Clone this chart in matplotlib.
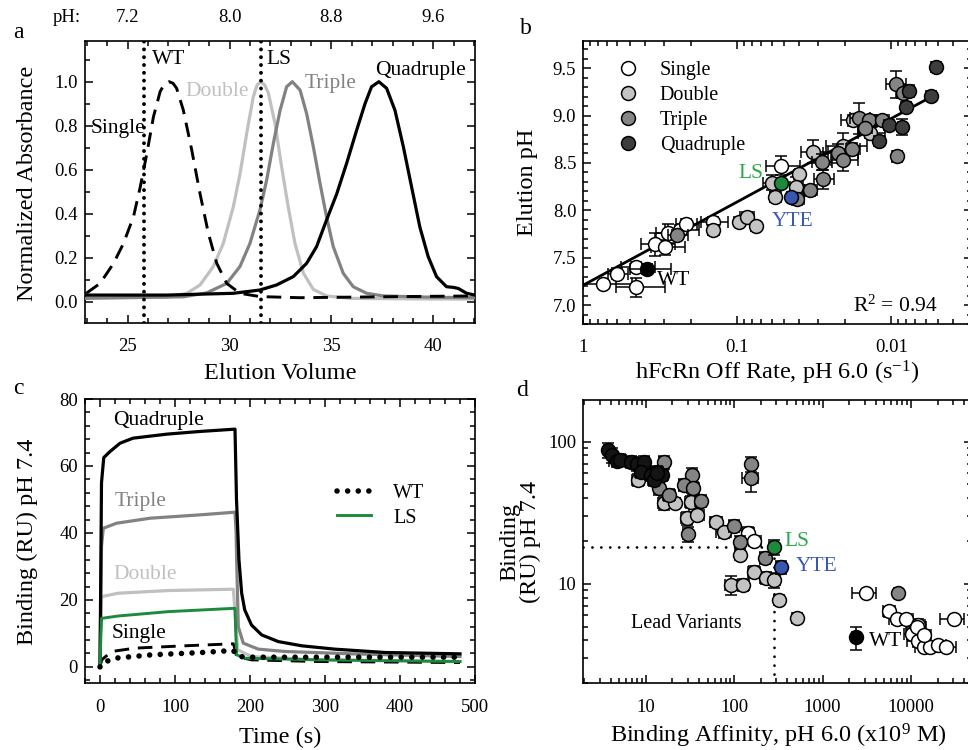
import numpy as np
import matplotlib
matplotlib.use("Agg")
import matplotlib.pyplot as plt
from matplotlib.ticker import MultipleLocator, FormatStrFormatter, FixedLocator, LogLocator, NullFormatter
from matplotlib.lines import Line2D

plt.rcParams["font.family"] = ["Liberation Serif", "DejaVu Serif"]
plt.rcParams["mathtext.fontset"] = "custom"
plt.rcParams["mathtext.rm"] = "Liberation Serif"
plt.rcParams["mathtext.it"] = "Liberation Serif:italic"
plt.rcParams["axes.linewidth"] = 1.2

# ---------------- (a) elution chromatograms ----------------
vol_single = [22.96, 23.64, 24.3, 24.79, 25.28, 25.61, 25.93, 26.26, 26.59, 26.8, 27.03, 27.22, 27.4, 27.73,
              28.14, 28.55, 28.96, 29.37, 29.86, 30.51, 31.49, 33.45, 38.36, 42.04]
abs_single = [0.038, 0.083, 0.174, 0.265, 0.386, 0.52, 0.67, 0.84, 0.955, 0.99, 1.0, 0.993, 0.97, 0.87,
              0.69, 0.49, 0.31, 0.174, 0.083, 0.038, 0.023, 0.018, 0.023, 0.026]

vol_double = [22.9, 26.91, 27.9, 28.55, 29.2, 29.69, 30.18, 30.51, 30.84, 31.16, 31.35, 31.54, 31.72, 31.9,
              32.23, 32.56, 32.88, 33.21, 33.62, 34.11, 34.76, 35.91, 40.0, 42.05]
abs_double = [0.02, 0.02, 0.038, 0.076, 0.16, 0.265, 0.43, 0.58, 0.765, 0.93, 0.985, 1.0, 0.985, 0.95,
              0.81, 0.61, 0.43, 0.265, 0.13, 0.056, 0.026, 0.015, 0.012, 0.012]

vol_triple = [22.9, 27.73, 28.88, 29.86, 30.51, 31.0, 31.49, 31.82, 32.15, 32.48, 32.8, 33.08, 33.46, 33.78,
              34.11, 34.44, 34.76, 35.09, 35.58, 36.07, 36.73, 37.55, 40.0, 42.05]
abs_triple = [0.015, 0.022, 0.04, 0.083, 0.16, 0.265, 0.417, 0.553, 0.72, 0.87, 0.977, 1.0, 0.962, 0.856,
              0.705, 0.538, 0.386, 0.25, 0.129, 0.068, 0.038, 0.026, 0.02, 0.018]

vol_quad = [22.96, 26.9, 30.18, 31.49, 32.31, 33.13, 33.78, 34.27, 34.76, 35.26, 35.75, 36.24, 36.65, 36.97,
            37.33, 37.71, 38.12, 38.53, 38.94, 39.34, 39.75, 40.16, 40.65, 40.98, 41.23, 41.64, 42.04]
abs_quad = [0.03, 0.03, 0.038, 0.053, 0.076, 0.114, 0.174, 0.25, 0.371, 0.49, 0.63, 0.78, 0.9, 0.977,
            1.0, 0.97, 0.87, 0.705, 0.52, 0.34, 0.205, 0.114, 0.068, 0.065, 0.06, 0.038, 0.03]

vol_ticks = [25, 30, 35, 40]
ph_tick_labels = ["7.2", "8.0", "8.8", "9.6"]
wt_volume = 25.8
ls_volume = 31.55

# ---------------- (b) elution pH vs off rate ----------------
off_single = [0.742, 0.603, 0.458, 0.456, 0.34, 0.293, 0.282, 0.237, 0.216, 0.143, 0.052]
ph_single = [7.22, 7.33, 7.40, 7.19, 7.64, 7.61, 7.76, 7.79, 7.86, 7.88, 8.47]
off_single_rel = [0.35, 0.15, 0.25, 0.35, 0.25, 0.25, 0.2, 0.25, 0.15, 0.2, 0.25]
ph_single_err = [0.02, 0.06, 0.05, 0.1, 0.12, 0.08, 0.1, 0.05, 0.05, 0.05, 0.1]

off_double = [0.143, 0.097, 0.087, 0.0755, 0.0594, 0.0569, 0.0396, 0.0416, 0.0321, 0.0206, 0.0177, 0.0138]
ph_double = [7.79, 7.88, 7.93, 7.83, 8.29, 8.14, 8.38, 8.25, 8.62, 8.68, 8.95, 8.82]
off_double_rel = [0.08, 0.06, 0.1, 0.06, 0.15, 0.08, 0.06, 0.1, 0.2, 0.3, 0.2, 0.2]
ph_double_err = [0.05, 0.05, 0.05, 0.05, 0.08, 0.05, 0.05, 0.1, 0.12, 0.14, 0.06, 0.06]

off_triple = [0.246, 0.0284, 0.0277, 0.0337, 0.0412, 0.0221, 0.0206, 0.0179, 0.0162, 0.0139, 0.0116,
              0.00915, 0.0094, 0.0149, 0.0084]
ph_triple = [7.74, 8.51, 8.33, 8.21, 8.12, 8.60, 8.53, 8.65, 8.97, 8.95, 8.95, 8.57, 9.33, 8.87, 9.24]
off_triple_rel = [0.15, 0.15, 0.15, 0.1, 0.1, 0.25, 0.2, 0.1, 0.15, 0.1, 0.1, 0.06, 0.15, 0.1, 0.1]
ph_triple_err = [0.05, 0.08, 0.1, 0.06, 0.06, 0.1, 0.12, 0.06, 0.16, 0.06, 0.06, 0.06, 0.14, 0.05, 0.05]

off_quad = [0.00516, 0.00556, 0.00767, 0.00807, 0.01035, 0.0086, 0.012]
ph_quad = [9.51, 9.21, 9.26, 9.09, 8.90, 8.88, 8.73]
off_quad_rel = [0.05, 0.05, 0.06, 0.05, 0.05, 0.05, 0.05]
ph_quad_err = [0.05, 0.05, 0.06, 0.05, 0.05, 0.08, 0.05]

off_wt, ph_wt = 0.385, 7.38
off_ls, ph_ls = 0.052, 8.29
off_yte, ph_yte = 0.0451, 8.14

fit_intercept, fit_slope = 7.21, -0.88   # pH = a + b*log10(off rate)
fit_range = [1.0, 0.0055]
r_squared = 0.94

# ---------------- (c) SPR sensorgrams at pH 7.4 ----------------
t_quad = [0, 2, 5, 13.3, 26.7, 44, 88.9, 133, 180, 182, 185.3, 188.9, 193, 202, 215.6, 237.8, 268.9, 313, 380, 480]
ru_quad = [0, 55, 62.5, 64.3, 66.8, 68.3, 69.5, 70.3, 71, 50, 31.9, 22, 17, 12.5, 9.55, 7.55, 6.3, 5.3, 4.3, 3.9]

t_triple = [0, 2, 4.4, 22, 66.7, 133, 180, 181.5, 182.2, 184.4, 191, 211, 246.7, 335.6, 480]
ru_triple = [0, 36, 41.4, 42.9, 44.4, 45.4, 46.2, 40, 31.9, 12, 7.1, 5.3, 4.6, 3.9, 3.1]

t_double = [0, 1.5, 2.2, 24.4, 91, 177.8, 180.5, 183.6, 202, 291, 480]
ru_double = [0, 17, 21, 22, 22.8, 23.2, 15, 5.1, 3.1, 2.1, 1.6]

t_ls = [0, 1.2, 2.2, 24.4, 91, 180, 181, 182.2, 193, 291, 480]
ru_ls = [0, 10, 14.5, 15.2, 16.5, 17.5, 10, 3.6, 2.6, 2.1, 1.6]

t_single = [0, 2.2, 15.6, 46.7, 113, 177.8, 180.5, 182, 202, 291, 480]
ru_single = [0, 2.1, 4.6, 5.6, 6.3, 6.9, 5, 3.1, 2.1, 1.6, 1.3]

t_wt = [0, 2.2, 20, 69, 135.6, 177.8, 181, 184, 202, 335, 480]
ru_wt = [0, 1.1, 2.6, 3.6, 4.3, 4.9, 4.0, 3.1, 2.9, 2.9, 2.9]

# ---------------- (d) binding at pH 7.4 vs affinity at pH 6.0 ----------------
kd_single = [144, 166, 3100, 5690, 7000, 8790, 12100, 10300, 11900, 13900, 16200, 20000, 24900, 30400, 11700, 13900]
bind_single = [22.7, 20.1, 8.6, 6.4, 5.7, 5.7, 5.15, 4.44, 3.94, 3.57, 3.6, 3.7, 3.6, 5.7, 5.0, 4.39]
kd_single_rel = [0.15, 0.2, 0.3, 0.15, 0.2, 0.2, 0.2, 0.2, 0.25, 0.2, 0.2, 0.25, 0.3, 0.3, 0.25, 0.2]
bind_single_rel = [0.1, 0.08, 0.05, 0.08, 0.08, 0.08, 0.1, 0.08, 0.08, 0.06, 0.06, 0.06, 0.06, 0.05, 0.08, 0.08]

kd_double = [8.2, 16.1, 21.3, 29.1, 38.4, 32.3, 63, 77, 117, 91.8, 127, 168, 228, 284, 318, 508]
bind_double = [53.8, 36.9, 36.9, 28.9, 30.6, 37.9, 27.2, 23.3, 16.0, 9.85, 9.85, 12.2, 11.0, 10.7, 7.7, 5.8]
kd_double_rel = [0.15, 0.15, 0.15, 0.15, 0.2, 0.15, 0.15, 0.2, 0.1, 0.15, 0.15, 0.15, 0.15, 0.15, 0.1, 0.1]
bind_double_rel = [0.1, 0.1, 0.08, 0.1, 0.1, 0.1, 0.08, 0.1, 0.08, 0.15, 0.1, 0.1, 0.1, 0.12, 0.08, 0.08]

kd_triple = [16.1, 33.7, 27.2, 34.6, 14.2, 18.4, 42.0, 29.6, 100, 117, 223, 155, 155, 7060]
bind_triple = [71.6, 58.3, 49.7, 47.0, 47.0, 42.2, 38.3, 22.3, 25.7, 19.8, 15.2, 69.3, 55.4, 8.6]
kd_triple_rel = [0.12, 0.12, 0.12, 0.15, 0.12, 0.15, 0.15, 0.12, 0.12, 0.1, 0.12, 0.1, 0.2, 0.1]
bind_triple_rel = [0.1, 0.12, 0.1, 0.1, 0.1, 0.1, 0.1, 0.12, 0.1, 0.1, 0.1, 0.12, 0.2, 0.06]

kd_quad = [3.74, 4.19, 4.77, 5.12, 6.76, 8.03, 9.56, 8.78, 11.4, 13.5, 15.4, 12.4, 13.3]
bind_quad = [87.4, 80.6, 73.1, 74.3, 72.3, 69.3, 72.3, 61.5, 58.3, 61.5, 58.3, 53.8, 60.0]
kd_quad_rel = [0.1, 0.1, 0.2, 0.15, 0.15, 0.15, 0.15, 0.15, 0.15, 0.15, 0.15, 0.15, 0.15]
bind_quad_rel = [0.12, 0.12, 0.1, 0.1, 0.1, 0.1, 0.1, 0.1, 0.1, 0.1, 0.1, 0.1, 0.1]

kd_wt, bind_wt = 2390, 4.2
kd_ls, bind_ls = 279, 18.1
kd_yte, bind_yte = 338, 13.1
lead_kd_cut, lead_bind_cut = 279, 18.1

# ---------------- colours and sizes ----------------
C_SINGLE, C_DOUBLE, C_TRIPLE, C_QUAD = "white", "#c3c3c3", "#858585", "#3d3d3d"
C_QUAD_D = "#141414"
C_LS, C_YTE = "#1b8a3c", "#3656b0"
C_LS_TXT, C_YTE_TXT = "#2aa845", "#3a58b8"
LINE_DOUBLE, LINE_TRIPLE = "#c0c0c0", "#828282"
FS_TICK, FS_LABEL, FS_NOTE, FS_LEG, FS_PANEL = 13.5, 17.5, 15.5, 14.5, 17

W, H = 968, 750
fig = plt.figure(figsize=(W / 100, H / 100), dpi=100)


def box(left, top, right, bottom):
    return [left / W, 1 - bottom / H, (right - left) / W, (bottom - top) / H]


def style_ticks(ax, xpad=10, ypad=5):
    ax.tick_params(which="both", direction="in", top=True, right=True, labelsize=FS_TICK, width=1.1)
    ax.tick_params(which="major", length=6)
    ax.tick_params(which="minor", length=3.5)
    ax.tick_params(axis="x", pad=xpad)
    ax.tick_params(axis="y", pad=ypad)


def ftext(px, py, s, **kw):
    fig.text(px / W, 1 - py / H, s, **kw)


# ======== panel a ========
ax = fig.add_axes(box(85, 41, 475, 323))
ax.plot(vol_double, abs_double, color=LINE_DOUBLE, lw=2.3, zorder=2)
ax.plot(vol_triple, abs_triple, color=LINE_TRIPLE, lw=2.3, zorder=3)
ax.plot(vol_quad, abs_quad, color="black", lw=2.3, zorder=4)
ax.plot(vol_single, abs_single, color="black", lw=2.1, ls=(0, (5, 3)), zorder=5)
for v in (wt_volume, ls_volume):
    ax.axvline(v, color="black", lw=2.8, ls=(0, (0.01, 2.0)), dash_capstyle="round", zorder=6)
ax.set_xlim(22.9, 42.05)
ax.set_ylim(-0.097, 1.185)
ax.xaxis.set_major_locator(FixedLocator(vol_ticks))
ax.xaxis.set_minor_locator(MultipleLocator(1))
ax.yaxis.set_major_locator(FixedLocator([0, 0.2, 0.4, 0.6, 0.8, 1.0]))
ax.yaxis.set_minor_locator(MultipleLocator(0.1))
ax.yaxis.set_major_formatter(FormatStrFormatter("%.1f"))
style_ticks(ax, xpad=11)
sec = ax.secondary_xaxis("top")
sec.set_xticks(vol_ticks, labels=ph_tick_labels)
sec.tick_params(length=0, labelsize=FS_TICK, pad=11)
sec.spines["top"].set_visible(False)
kw = dict(fontsize=FS_NOTE, va="center", ha="left")
ax.text(26.18, 1.099, "WT", **kw)
ax.text(31.82, 1.099, "LS", **kw)
ax.text(37.13, 1.053, "Quadruple", **kw)
ax.text(33.7, 0.993, "Triple", color=LINE_TRIPLE, **kw)
ax.text(27.81, 0.955, "Double", color=LINE_DOUBLE, **kw)
ax.text(23.18, 0.788, "Single", **kw)
ftext(67, 17, "pH:", fontsize=FS_TICK, ha="center", va="center")
ftext(28, 183, "Normalized Absorbance", fontsize=FS_LABEL, rotation=90, ha="center", va="center")
ftext(280, 373, "Elution Volume", fontsize=FS_LABEL, ha="center", va="center")
ftext(18, 33, "a", fontsize=FS_PANEL, ha="center", va="center")

# ======== panel b ========
ax = fig.add_axes(box(583.3, 40.7, 972, 324))
ax.set_xscale("log")
ax.set_xlim(1, 0.003)
ax.set_ylim(6.8, 9.79)
fx = np.array(fit_range)
ax.plot(fx, fit_intercept + fit_slope * np.log10(fx), color="black", lw=2.0, zorder=2)

err_kw = dict(fmt="o", ms=10, mec="black", mew=1.1, ecolor="black", elinewidth=1.1, capsize=4, capthick=1.1)


def scatter_err(ax, x, y, xrel, yerr, color, z, yrel=False):
    x = np.asarray(x, float)
    y = np.asarray(y, float)
    xe = x * np.asarray(xrel, float)
    ye = y * np.asarray(yerr, float) if yrel else np.asarray(yerr, float)
    ax.errorbar(x, y, xerr=xe, yerr=ye, mfc=color, zorder=z, **err_kw)


scatter_err(ax, off_single, ph_single, off_single_rel, ph_single_err, C_SINGLE, 3)
scatter_err(ax, off_double, ph_double, off_double_rel, ph_double_err, C_DOUBLE, 4)
scatter_err(ax, off_triple, ph_triple, off_triple_rel, ph_triple_err, C_TRIPLE, 5)
scatter_err(ax, off_quad, ph_quad, off_quad_rel, ph_quad_err, C_QUAD, 6)
scatter_err(ax, [off_wt], [ph_wt], [0.3], [0.05], "black", 7)
scatter_err(ax, [off_ls], [ph_ls], [0.05], [0.03], C_LS, 8)
scatter_err(ax, [off_yte], [ph_yte], [0.05], [0.03], C_YTE, 8)
ax.xaxis.set_major_locator(FixedLocator([1, 0.1, 0.01]))
ax.set_xticklabels(["1", "0.1", "0.01"])
ax.xaxis.set_minor_locator(LogLocator(base=10, subs=np.arange(2, 10)))
ax.xaxis.set_minor_formatter(NullFormatter())
ax.yaxis.set_major_locator(MultipleLocator(0.5))
ax.yaxis.set_minor_locator(MultipleLocator(0.1))
ax.yaxis.set_major_formatter(FormatStrFormatter("%.1f"))
style_ticks(ax, xpad=11)
ax.text(0.0676, 8.384, "LS", color=C_LS_TXT, fontsize=FS_NOTE, ha="right", va="center", zorder=10)
ax.text(0.0598, 7.88, "YTE", color=C_YTE_TXT, fontsize=FS_NOTE, ha="left", va="center", zorder=10)
ax.text(0.332, 7.264, "WT", fontsize=FS_NOTE, ha="left", va="center", zorder=10)
ax.text(0.00499, 6.99, r"R$^2$ = %.2f" % r_squared, fontsize=FS_NOTE, ha="right", va="center")
handles = [Line2D([], [], ls="none", marker="o", ms=10, mfc=c, mec="black", mew=1.1)
           for c in (C_SINGLE, C_DOUBLE, C_TRIPLE, C_QUAD)]
ax.legend(handles, ["Single", "Double", "Triple", "Quadruple"], loc="upper left",
          bbox_to_anchor=(0.088, 0.93), frameon=False, fontsize=FS_LEG, borderpad=0, borderaxespad=0,
          handlelength=1.0, handletextpad=1.1, labelspacing=0.3)
ftext(527, 182, "Elution pH", fontsize=FS_LABEL, rotation=90, ha="center", va="center")
ftext(777, 373, r"hFcRn Off Rate, pH 6.0 (s$^{-1}$)", fontsize=FS_LABEL, ha="center", va="center")
ftext(526, 28, "b", fontsize=FS_PANEL, ha="center", va="center")

# ======== panel c ========
ax = fig.add_axes(box(85, 399, 475, 683.3))
ax.plot(t_double, ru_double, color=LINE_DOUBLE, lw=2.3, zorder=2)
ax.plot(t_triple, ru_triple, color=LINE_TRIPLE, lw=2.3, zorder=3)
ax.plot(t_quad, ru_quad, color="black", lw=2.3, zorder=4)
ax.plot(t_single, ru_single, color="black", lw=2.1, ls=(0, (5, 3)), zorder=5)
ax.plot(t_ls, ru_ls, color=C_LS, lw=2.1, zorder=6, label="LS")
ax.plot(t_wt, ru_wt, color="black", lw=4.0, ls=(0, (0.01, 1.9)), dash_capstyle="round", zorder=7, label="WT")
ax.set_xlim(-20, 500)
ax.set_ylim(-4.9, 80)
ax.xaxis.set_major_locator(MultipleLocator(100))
ax.xaxis.set_minor_locator(MultipleLocator(20))
ax.yaxis.set_major_locator(MultipleLocator(20))
ax.yaxis.set_minor_locator(MultipleLocator(4))
style_ticks(ax, xpad=11)
kw = dict(fontsize=FS_NOTE, va="center", ha="left")
ax.text(17.8, 73.7, "Quadruple", **kw)
ax.text(20, 49.3, "Triple", color=LINE_TRIPLE, **kw)
ax.text(17.8, 27.7, "Double", color=LINE_DOUBLE, **kw)
ax.text(15.6, 10, "Single", **kw)
h, l = ax.get_legend_handles_labels()
order = [l.index("WT"), l.index("LS")]
ax.legend([h[i] for i in order], [l[i] for i in order], loc="upper left", bbox_to_anchor=(0.645, 0.70),
          frameon=False, fontsize=FS_LEG, borderpad=0, borderaxespad=0, handlelength=1.7,
          handletextpad=1.1, labelspacing=0.25)
ftext(27, 542, "Binding (RU) pH 7.4", fontsize=FS_LABEL, rotation=90, ha="center", va="center")
ftext(280, 737, "Time (s)", fontsize=FS_LABEL, ha="center", va="center")
ftext(18, 388, "c", fontsize=FS_PANEL, ha="center", va="center")

# ======== panel d ========
ax = fig.add_axes(box(583.3, 400, 972, 683.3))
ax.set_xscale("log")
ax.set_yscale("log")
ax.set_xlim(1.96, 49000)
ax.set_ylim(2.0, 196)
ax.plot([1.96, lead_kd_cut], [lead_bind_cut, lead_bind_cut], color="black", lw=2.0,
        ls=(0, (0.01, 3.2)), dash_capstyle="round", zorder=1)
ax.plot([lead_kd_cut, lead_kd_cut], [2.0, lead_bind_cut], color="black", lw=2.0,
        ls=(0, (0.01, 3.2)), dash_capstyle="round", zorder=1)
scatter_err(ax, kd_single, bind_single, kd_single_rel, bind_single_rel, C_SINGLE, 3, yrel=True)
scatter_err(ax, kd_double, bind_double, kd_double_rel, bind_double_rel, C_DOUBLE, 4, yrel=True)
scatter_err(ax, kd_triple, bind_triple, kd_triple_rel, bind_triple_rel, C_TRIPLE, 5, yrel=True)
scatter_err(ax, kd_quad, bind_quad, kd_quad_rel, bind_quad_rel, C_QUAD_D, 6, yrel=True)
scatter_err(ax, [kd_wt], [bind_wt], [0.1], [0.18], "black", 7, yrel=True)
scatter_err(ax, [kd_ls], [bind_ls], [0.12], [0.12], C_LS, 8, yrel=True)
scatter_err(ax, [kd_yte], [bind_yte], [0.12], [0.1], C_YTE, 8, yrel=True)
ax.xaxis.set_major_locator(FixedLocator([10, 100, 1000, 10000]))
ax.set_xticklabels(["10", "100", "1000", "10000"])
ax.xaxis.set_minor_locator(LogLocator(base=10, subs=np.arange(2, 10)))
ax.xaxis.set_minor_formatter(NullFormatter())
ax.yaxis.set_major_locator(FixedLocator([10, 100]))
ax.set_yticklabels(["10", "100"])
ax.yaxis.set_minor_locator(LogLocator(base=10, subs=np.arange(2, 10)))
ax.yaxis.set_minor_formatter(NullFormatter())
style_ticks(ax, xpad=11)
ax.text(368, 19.8, "LS", color=C_LS_TXT, fontsize=FS_NOTE, ha="left", va="center")
ax.text(500, 13.2, "YTE", color=C_YTE_TXT, fontsize=FS_NOTE, ha="left", va="center")
ax.text(3380, 3.93, "WT", fontsize=FS_NOTE, ha="left", va="center")
ax.text(29, 5.24, "Lead Variants", fontsize=FS_LEG, ha="center", va="center")
ftext(520, 542, "Binding\n(RU) pH 7.4", fontsize=FS_LABEL, rotation=90, ha="center", va="center",
      linespacing=0.95)
ftext(778, 736, r"Binding Affinity, pH 6.0 (x10$^9$ M)", fontsize=FS_LABEL, ha="center", va="center")
ftext(522, 390, "d", fontsize=FS_PANEL, ha="center", va="center")

fig.savefig("out.png", dpi=100)
